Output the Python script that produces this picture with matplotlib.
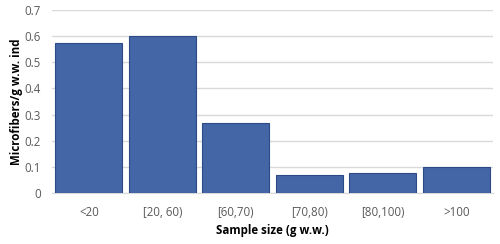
import matplotlib
matplotlib.use("Agg")
import matplotlib.pyplot as plt

categories = ["<20", "[20, 60)", "[60,70)", "[70,80)", "[80,100)", ">100"]
values = [0.575, 0.600, 0.269, 0.070, 0.075, 0.098]
yticks = [0, 0.1, 0.2, 0.3, 0.4, 0.5, 0.6, 0.7]

plt.rcParams['font.family'] = ['Open Sans', 'DejaVu Sans']

fig = plt.figure(figsize=(5, 2.44), dpi=100)
ax = fig.add_axes([0.104, 0.209, 0.882, 0.750])
x = range(len(categories))
ax.bar(x, values, width=0.905, color="#4566a6", edgecolor="#2c4a85", linewidth=0.8, zorder=3)
ax.set_xlim(-0.5, len(categories) - 0.5)
ax.set_ylim(0, 0.7)
ax.set_yticks(yticks)
ax.set_yticklabels([f"{t:g}" for t in yticks])
ax.set_xticks(list(x))
ax.set_xticklabels(categories)
ax.yaxis.grid(True, color="#d9d9d9", linewidth=1.0, zorder=0)
for s in ["top", "right", "left"]:
    ax.spines[s].set_visible(False)
ax.spines["bottom"].set_color("#d9d9d9")
ax.tick_params(axis="both", length=0, labelsize=8.3, colors="#595959", pad=8)
ax.tick_params(axis="x", pad=9)
ax.set_xlabel("Sample size (g w.w.)", fontsize=8.3, fontweight="bold", color="black", labelpad=4)
ax.set_ylabel("Microfibers/g w.w. ind", fontsize=8.3, fontweight="bold", color="black", labelpad=1)
fig.savefig("out.png", dpi=100)
